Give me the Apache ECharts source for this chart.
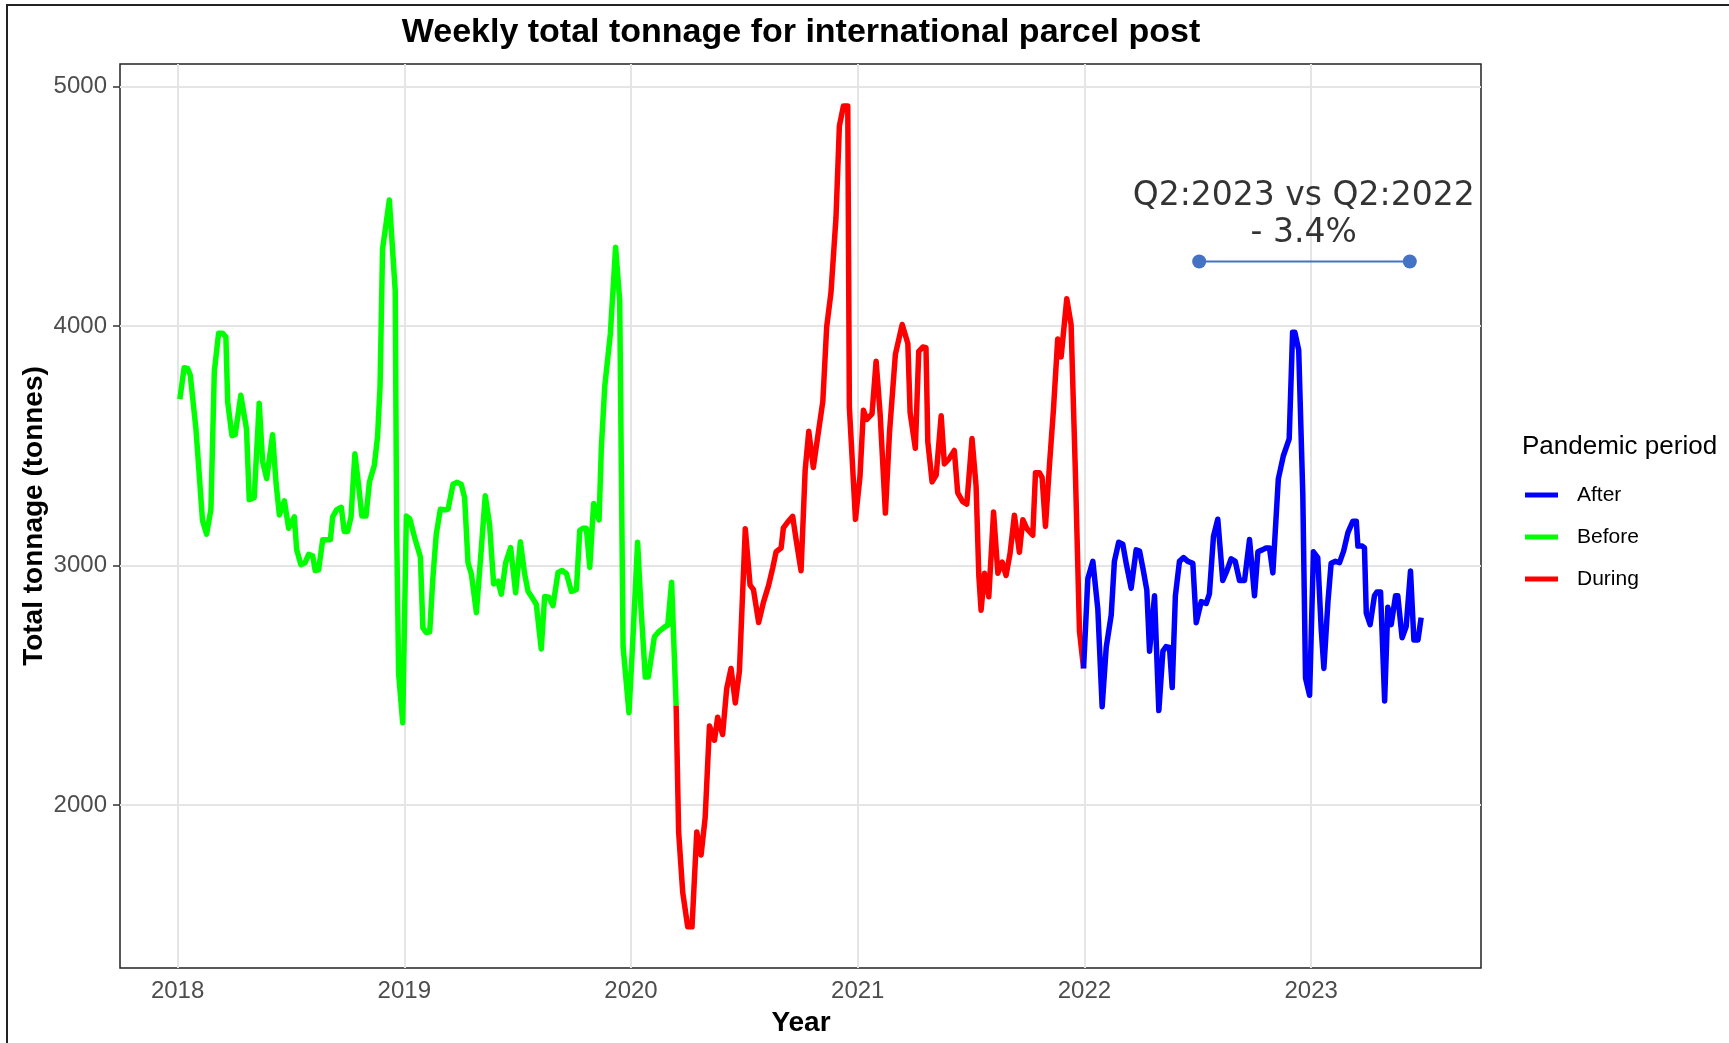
<!DOCTYPE html>
<html>
<head>
<meta charset="utf-8">
<title>Weekly total tonnage for international parcel post</title>
<script src="https://cdn.jsdelivr.net/npm/echarts@6/dist/echarts.min.js"></script>
<style>
  html, body { margin: 0; padding: 0; background: #fff; }
  #chart { width: 1729px; height: 1043px; }
</style>
</head>
<body>
<div id="chart"></div>
<script>
// x = decimal year of the week, y = tonnes
const beforeYears = [
  2018.010, 2018.029, 2018.044, 2018.056, 2018.081, 2018.110, 2018.128, 2018.147, 2018.162, 2018.181,
  2018.199, 2018.213, 2018.221, 2018.240, 2018.254, 2018.279, 2018.304, 2018.316, 2018.338, 2018.360,
  2018.375, 2018.393, 2018.419, 2018.434, 2018.449, 2018.471, 2018.490, 2018.515, 2018.525, 2018.544,
  2018.562, 2018.578, 2018.596, 2018.607, 2018.622, 2018.640, 2018.674, 2018.684, 2018.701, 2018.722,
  2018.735, 2018.750, 2018.765, 2018.782, 2018.797, 2018.813, 2018.831, 2018.846, 2018.868, 2018.882,
  2018.893, 2018.904, 2018.934, 2018.960, 2018.966, 2018.975, 2018.993,
  2019.009, 2019.024, 2019.046, 2019.071, 2019.082, 2019.097, 2019.112, 2019.126, 2019.141, 2019.159,
  2019.182, 2019.193, 2019.215, 2019.232, 2019.251, 2019.266, 2019.281, 2019.296, 2019.318, 2019.340,
  2019.357, 2019.376, 2019.394, 2019.413, 2019.428, 2019.447, 2019.469, 2019.491, 2019.512, 2019.531,
  2019.546, 2019.565, 2019.582, 2019.604, 2019.619, 2019.638, 2019.656, 2019.678, 2019.696, 2019.715,
  2019.737, 2019.759, 2019.774, 2019.788, 2019.803, 2019.818, 2019.835, 2019.859, 2019.869, 2019.884,
  2019.909, 2019.932, 2019.950, 2019.965, 2019.991,
  2020.010, 2020.029, 2020.044, 2020.063, 2020.076, 2020.103, 2020.125, 2020.151, 2020.162, 2020.179,
  2020.199
];
const beforeTonnes = [
  3696, 3827, 3824, 3795, 3571, 3188, 3132, 3236, 3811, 3971,
  3971, 3955, 3683, 3543, 3547, 3712, 3571, 3276, 3284, 3678,
  3435, 3364, 3547, 3348, 3212, 3271, 3156, 3204, 3068, 3004,
  3012, 3047, 3041, 2980, 2983, 3108, 3108, 3204, 3233, 3244,
  3143, 3143, 3204, 3467, 3348, 3207, 3207, 3348, 3420, 3539,
  3747, 4322, 4527, 4147, 3172, 2549, 2344,
  3207, 3196, 3116, 3036, 2740, 2721, 2724, 2948, 3132, 3236,
  3233, 3236, 3340, 3348, 3340, 3284, 3012, 2964, 2804, 3076,
  3292, 3172, 2924, 2935, 2881, 3012, 3076, 2887, 3100, 2964,
  2892, 2865, 2839, 2652, 2871, 2868, 2833, 2972, 2980, 2967,
  2892, 2900, 3148, 3156, 3156, 2993, 3260, 3191, 3491, 3747,
  3971, 4330, 4107, 2660, 2386,
  2727, 3098, 2823, 2535, 2535, 2703, 2727, 2746, 2751, 2931,
  2415
];

const duringYears = [
  2020.199, 2020.210, 2020.228, 2020.250, 2020.269, 2020.290, 2020.309, 2020.327, 2020.346, 2020.368,
  2020.382, 2020.404, 2020.422, 2020.441, 2020.460, 2020.478, 2020.504, 2020.525, 2020.540, 2020.563,
  2020.584, 2020.607, 2020.625, 2020.640, 2020.662, 2020.672, 2020.691, 2020.713, 2020.728, 2020.750,
  2020.768, 2020.784, 2020.804, 2020.824, 2020.846, 2020.863, 2020.882, 2020.904, 2020.919, 2020.937,
  2020.956, 2020.963, 2020.990,
  2021.010, 2021.025, 2021.040, 2021.063, 2021.081, 2021.099, 2021.122, 2021.140, 2021.166, 2021.196,
  2021.221, 2021.231, 2021.254, 2021.269, 2021.287, 2021.301, 2021.309, 2021.328, 2021.346, 2021.368,
  2021.382, 2021.401, 2021.426, 2021.441, 2021.463, 2021.481, 2021.504, 2021.522, 2021.534, 2021.544,
  2021.559, 2021.578, 2021.599, 2021.618, 2021.637, 2021.654, 2021.672, 2021.691, 2021.713, 2021.728,
  2021.746, 2021.772, 2021.784, 2021.801, 2021.813, 2021.828, 2021.846, 2021.863, 2021.882, 2021.897,
  2021.922, 2021.941, 2021.960, 2021.978, 2021.996
];
const duringTonnes = [
  2415, 1888, 1636, 1492, 1492, 1888, 1792, 1948, 2331, 2271,
  2367, 2295, 2487, 2571, 2427, 2559, 3154, 2919, 2900, 2763,
  2847, 2919, 2991, 3058, 3074, 3158, 3182, 3206, 3110, 2979,
  3398, 3561, 3410, 3542, 3686, 3997, 4141, 4453, 4836, 4920,
  4920, 3662, 3194,
  3374, 3649, 3611, 3634, 3854, 3630, 3220, 3555, 3882, 4007,
  3928, 3639, 3490, 3895, 3913, 3910, 3518, 3350, 3378, 3626,
  3425, 3444, 3481, 3304, 3267, 3257, 3531, 3332, 2959, 2814,
  2968, 2870, 3224, 2968, 3015, 2959, 3052, 3211, 3056, 3192,
  3155, 3127, 3388, 3388, 3369, 3164, 3425, 3649, 3947, 3872,
  4115, 4007, 3388, 2726, 2571
];

const afterYears = [
  2021.996, 2022.015, 2022.037, 2022.059, 2022.078, 2022.096, 2022.118, 2022.132, 2022.151, 2022.169,
  2022.184, 2022.206, 2022.228, 2022.243, 2022.260, 2022.275, 2022.287, 2022.309, 2022.328, 2022.346,
  2022.360, 2022.375, 2022.387, 2022.401, 2022.419, 2022.437, 2022.456, 2022.478, 2022.493, 2022.515,
  2022.537, 2022.551, 2022.569, 2022.588, 2022.610, 2022.628, 2022.647, 2022.665, 2022.684, 2022.706,
  2022.728, 2022.750, 2022.765, 2022.784, 2022.801, 2022.816, 2022.831, 2022.855, 2022.877, 2022.903,
  2022.918, 2022.928, 2022.945, 2022.963, 2022.975, 2022.993,
  2023.010, 2023.029, 2023.044, 2023.056, 2023.074, 2023.088, 2023.107, 2023.125, 2023.143, 2023.162,
  2023.184, 2023.199, 2023.206, 2023.225, 2023.235, 2023.243, 2023.260, 2023.279, 2023.290, 2023.306,
  2023.324, 2023.338, 2023.353, 2023.372, 2023.382, 2023.401, 2023.419, 2023.438, 2023.453, 2023.471,
  2023.485
];
const afterTonnes = [
  2571, 2946, 3018, 2818, 2411, 2659, 2794, 3018, 3098, 3090,
  3010, 2906, 3066, 3061, 2978, 2898, 2643, 2874, 2395, 2643,
  2662, 2659, 2491, 2874, 3018, 3034, 3018, 3010, 2762, 2850,
  2842, 2882, 3122, 3194, 2938, 2978, 3029, 3018, 2938, 2938,
  3109, 2874, 3058, 3066, 3074, 3074, 2970, 3362, 3458, 3530,
  3975, 3975, 3900, 3298, 2531, 2459,
  3058, 3034, 2738, 2571, 2850, 3010, 3018, 3013, 3061, 3138,
  3186, 3186, 3082, 3082, 3074, 2802, 2754, 2874, 2890, 2890,
  2435, 2826, 2754, 2874, 2874, 2699, 2746, 2978, 2690, 2690,
  2783
];

const yearTicks = [2018, 2019, 2020, 2021, 2022, 2023];
const tonneTicks = [2000, 3000, 4000, 5000];
const periodNames = ['After', 'Before', 'During'];
const periodColors = { After: '#0000FF', Before: '#00FF00', During: '#FF0000' };

// Q2:2023 vs Q2:2022 bracket
const bracketYears = [2022.506, 2023.435];
const bracketTonnes = [4270, 4270];
const bracketLabel = 'Q2:2023 vs Q2:2022\n- 3.4%';
const bracketLabelAt = [2022.967, 4464];

const FONT = '"Liberation Sans", Arial, sans-serif';

function pairs(xs, ys) {
  return xs.map((x, i) => [x, ys[i]]);
}

function periodSeries(name, xs, ys) {
  return {
    name: name,
    type: 'line',
    data: pairs(xs, ys),
    showSymbol: false,
    symbol: 'none',
    color: periodColors[name],
    lineStyle: { width: 5.5, color: periodColors[name], join: 'round' },
    animation: false,
    z: 3
  };
}

const chart = echarts.init(document.getElementById('chart'));

const option = {
  backgroundColor: '#ffffff',
  animation: false,
  grid: {
    left: 120, right: 248, top: 64, bottom: 75,
    show: true, borderColor: '#222', borderWidth: 1.5, backgroundColor: 'transparent'
  },
  legend: {
    data: periodNames,
    orient: 'vertical',
    left: 1520,
    top: 478,
    icon: 'rect',
    itemWidth: 33,
    itemHeight: 5,
    itemGap: 18,
    selectedMode: false,
    textStyle: { fontFamily: FONT, fontSize: 21, color: '#000', lineHeight: 24, padding: [0, 0, 0, 14] }
  },
  xAxis: {
    type: 'value',
    min: 2017.746,
    max: 2023.749,
    axisLine: { show: false },
    axisTick: { show: false, customValues: yearTicks },
    axisLabel: {
      customValues: yearTicks,
      margin: 11,
      fontFamily: FONT, fontSize: 24, color: '#4d4d4d',
      formatter: v => String(Math.round(v))
    },
    splitLine: { show: true, lineStyle: { color: '#e5e5e5', width: 2 } }
  },
  yAxis: {
    type: 'value',
    min: 1320,
    max: 5095,
    axisLine: { show: false },
    axisTick: { show: true, length: 7, customValues: tonneTicks, lineStyle: { color: '#333', width: 1.5 } },
    axisLabel: {
      customValues: tonneTicks,
      margin: 13,
      fontFamily: FONT, fontSize: 24, color: '#4d4d4d',
      formatter: v => String(Math.round(v))
    },
    splitLine: { show: true, lineStyle: { color: '#e5e5e5', width: 2 } }
  },
  series: [
    periodSeries('Before', beforeYears, beforeTonnes),
    periodSeries('During', duringYears, duringTonnes),
    periodSeries('After', afterYears, afterTonnes),
    {
      name: 'bracket',
      type: 'line',
      data: pairs(bracketYears, bracketTonnes),
      symbol: 'circle',
      symbolSize: 14,
      showSymbol: true,
      color: '#4472C4',
      itemStyle: { color: '#4472C4' },
      lineStyle: { width: 2, color: '#4472C4' },
      animation: false,
      z: 4
    },
    {
      name: 'bracketText',
      type: 'scatter',
      data: [bracketLabelAt],
      symbolSize: 0,
      label: {
        show: true,
        position: 'inside',
        formatter: bracketLabel,
        fontFamily: '"DejaVu Sans", sans-serif',
        fontSize: 33,
        lineHeight: 37.5,
        color: '#000',
        textBorderWidth: 0,
        align: 'center'
      },
      animation: false,
      z: 5
    }
  ],
  graphic: [
    {
      type: 'rect', silent: true, z: 0,
      shape: { x: 7, y: 5, width: 1800, height: 1100 },
      style: { fill: 'none', stroke: '#222', lineWidth: 2 }
    },
    {
      type: 'text', silent: true,
      style: {
        x: 801, y: 33, text: 'Weekly total tonnage for international parcel post',
        font: 'bold 34px ' + FONT, fill: '#000', align: 'center', verticalAlign: 'middle'
      }
    },
    {
      type: 'text', silent: true,
      style: {
        x: 801, y: 1023, text: 'Year',
        font: 'bold 28px ' + FONT, fill: '#000', align: 'center', verticalAlign: 'middle'
      }
    },
    {
      type: 'text', silent: true,
      x: 34, y: 516, rotation: Math.PI / 2,
      style: {
        x: 0, y: 0, text: 'Total tonnage (tonnes)',
        font: 'bold 28px ' + FONT, fill: '#000', align: 'center', verticalAlign: 'middle'
      }
    },
    {
      type: 'text', silent: true,
      style: {
        x: 1522, y: 447, text: 'Pandemic period',
        font: '26px ' + FONT, fill: '#000', align: 'left', verticalAlign: 'middle'
      }
    }
  ]
};

chart.setOption(option);
</script>
</body>
</html>
